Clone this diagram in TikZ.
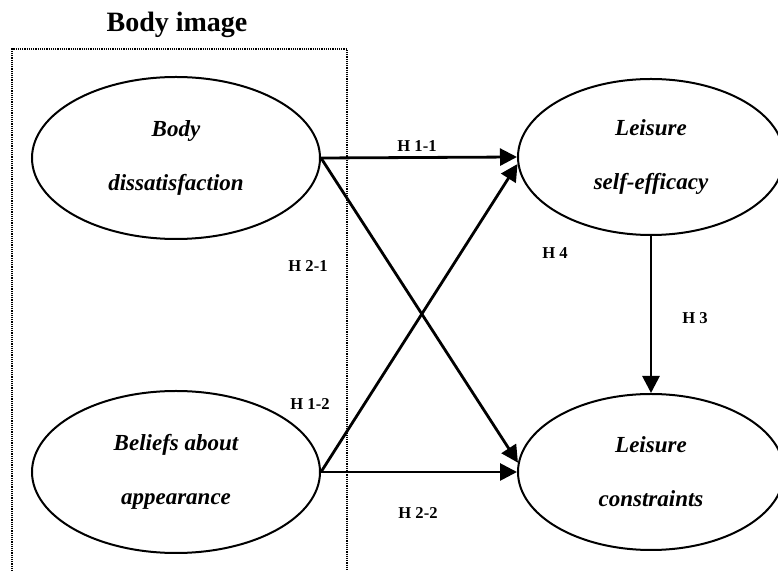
\documentclass[tikz,border=0pt]{standalone}
\usepackage{fontspec}
\setmainfont{Liberation Serif}
\usetikzlibrary{shapes.geometric,arrows.meta}

\begin{document}
\begin{tikzpicture}[x=0.5pt,y=-0.5pt, >={Triangle[length=8.5pt,width=8.5pt]},
  var/.style={draw,ellipse,line width=1pt,minimum width=144pt,minimum height=81pt,
    align=center,font=\fontsize{11.5}{27}\selectfont\bfseries\itshape},
  hl/.style={font=\fontsize{8.3}{9}\selectfont\bfseries,inner sep=0pt},
  path/.style={->,line width=1.4pt}]
  \useasboundingbox (0,0) rectangle (778,571);
  % the body image block
  \draw[line width=0.7pt,dash pattern=on 0.6pt off 0.5pt] (12,580) |- (347,49) -- (347,580);
  \node[font=\fontsize{14}{16}\selectfont\bfseries](title) at (177,25){Body image};
  \node[var](bd) at (176,158){Body\\dissatisfaction};
  \node[var](ba) at (176,472){Beliefs about\\appearance};
  \node[var,minimum width=133pt,minimum height=78pt](lse) at (651,157){Leisure\\self-efficacy};
  \node[var,minimum width=133pt,minimum height=78pt](lc) at (651,472){Leisure\\constraints};
  % paths
  \draw[path](bd.east)--(lse.west);
  \draw[path](bd.east)--(lc.176);
  \draw[path](ba.east)--(lse.183);
  \draw[path](ba.east)--(lc.west);
  \draw[path](lse.south)--(lc.north);
  % hypotheses
  \node[hl](h11) at (417,146){H 1-1};
  \node[hl](h21) at (308,266){H 2-1};
  \node[hl](h12) at (310,404){H 1-2};
  \node[hl](h22) at (418,513){H 2-2};
  \node[hl](h4) at (555,253){H 4};
  \node[hl](h3) at (695,318){H 3};
\end{tikzpicture}
\end{document}
